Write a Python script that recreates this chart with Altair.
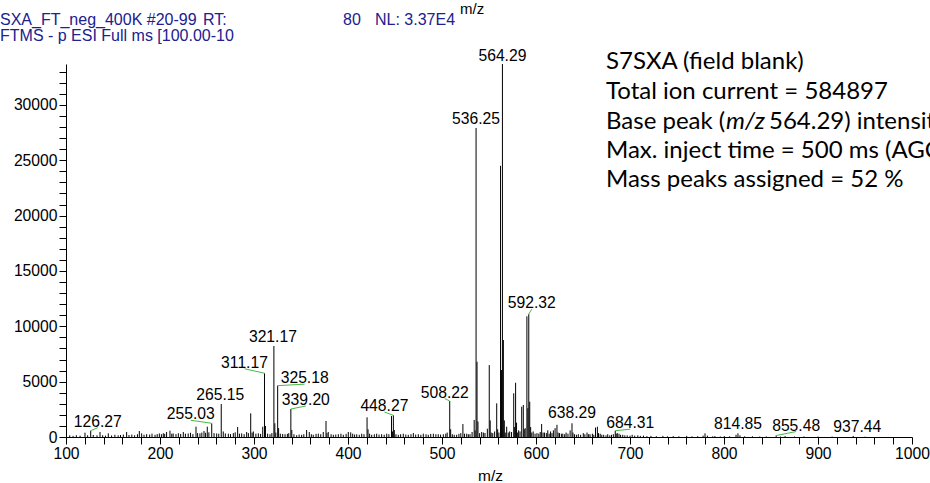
import altair as alt
import pandas as pd

# ---------------- data ----------------
peak_mz = [
    104.0, 107.5, 111.0, 115.0, 120.2, 123.0, 126.27, 129.0, 133.0, 136.2,
    139.0, 142.0, 145.0, 148.5, 152.0, 155.5, 158.0, 161.0, 164.5, 167.0,
    170.0, 173.0, 176.0, 178.0, 180.5, 183.0, 185.8, 189.0, 191.5, 194.7,
    197.0, 199.3, 201.5, 203.5, 205.0, 207.0, 210.6, 212.5, 214.0, 217.0,
    219.5, 222.0, 224.8, 227.0, 230.0, 232.5, 235.0, 238.3, 240.0, 242.5,
    244.5, 246.8, 248.5, 250.3, 252.0, 255.03, 257.5, 260.3, 262.5, 265.15,
    267.3, 269.5, 272.7, 275.0, 278.0, 280.0, 282.6, 284.5, 286.9, 289.5,
    292.2, 294.0, 296.5, 298.0, 299.3, 302.0, 304.6, 307.0, 309.3, 311.17,
    312.17, 314.5, 317.0, 319.0, 321.17, 322.17, 323.2, 325.18, 326.18, 328.0,
    330.5, 333.0, 335.5, 337.0, 339.20, 340.2, 342.5, 345.4, 348.0, 350.7,
    353.0, 356.0, 358.8, 361.0, 363.0, 366.0, 368.4, 371.0, 373.7, 376.6,
    377.6, 379.0, 382.0, 384.4, 387.0, 389.7, 392.5, 395.0, 398.0, 400.3,
    402.9, 405.0, 407.0, 409.3, 412.0, 414.6, 417.0, 420.27, 421.3, 423.0,
    425.2, 428.0, 430.5, 433.0, 435.8, 438.5, 441.2, 443.5, 446.27, 447.27,
    448.27, 449.27, 451.0, 453.5, 456.0, 458.8, 461.5, 464.1, 467.0, 469.5,
    472.0, 474.8, 477.5, 480.1, 483.0, 485.4, 488.0, 490.8, 493.5, 496.0,
    498.5, 501.4, 504.0, 505.5, 508.22, 509.22, 511.0, 513.0, 515.6, 518.0,
    520.0, 522.24, 524.0, 526.3, 528.0, 529.8, 532.0, 534.23, 535.2, 536.25,
    537.26, 538.26, 540.0, 542.2, 544.0, 545.7, 548.25, 550.27, 551.27, 552.3,
    554.0, 556.0, 558.2, 559.2, 560.5, 562.27, 563.28, 564.29, 565.30, 566.3,
    567.3, 568.8, 570.5, 572.0, 574.0, 576.3, 577.3, 578.30, 579.3, 580.5,
    581.5, 583.0, 584.8, 586.5, 587.5, 588.5, 590.31, 591.31, 592.32, 593.32,
    594.3, 595.5, 597.0, 599.0, 601.0, 603.0, 604.5, 606.0, 607.5, 609.0,
    611.0, 612.5, 614.0, 615.5, 617.0, 618.5, 620.3, 622.3, 623.5, 625.0,
    627.0, 628.5, 630.5, 632.0, 634.0, 636.3, 638.29, 639.3, 641.0, 643.0,
    645.0, 647.5, 650.3, 652.0, 654.3, 656.0, 657.5, 660.0, 661.5, 663.3,
    665.3, 666.5, 668.3, 670.0, 672.0, 674.5, 676.3, 678.5, 680.3, 682.3,
    684.31, 685.3, 686.5, 688.3, 690.0, 692.3, 694.5, 697.0, 700.0, 702.3,
    705.0, 708.3, 711.0, 714.3, 718.0, 722.3, 728.0, 735.0, 740.0, 746.0,
    752.0, 760.3, 766.0, 772.0, 777.8, 779.8, 782.3, 788.0, 790.3, 796.0,
    800.3, 806.0, 812.8, 814.85, 817.0, 822.0, 830.3, 838.0, 845.0, 855.48,
    860.0, 865.0, 875.0, 885.0, 900.0, 915.0, 937.44, 950.0,
]
peak_int = [
    150, 100, 160, 120, 390, 150, 570, 180, 150, 450,
    160, 120, 330, 140, 200, 150, 180, 220, 450, 180,
    220, 160, 250, 540, 330, 200, 260, 220, 300, 200,
    260, 320, 250, 340, 280, 450, 570, 300, 320, 260,
    340, 280, 450, 300, 320, 380, 260, 930, 350, 330,
    400, 540, 380, 930, 420, 1240, 350, 320, 300, 2980,
    500, 320, 300, 260, 350, 420, 900, 300, 330, 250,
    450, 350, 2140, 400, 500, 300, 330, 280, 930, 5760,
    1000, 300, 250, 350, 8220, 1240, 400, 4640, 800, 300,
    270, 250, 280, 350, 2530, 630, 250, 160, 220, 200,
    250, 630, 450, 250, 200, 280, 300, 250, 450, 1450,
    350, 450, 250, 200, 220, 250, 300, 200, 280, 450,
    420, 300, 220, 250, 200, 300, 250, 1780, 700, 300,
    200, 250, 300, 220, 250, 200, 300, 250, 1900, 500,
    1960, 630, 250, 200, 250, 300, 220, 200, 250, 360,
    220, 250, 200, 300, 250, 200, 280, 300, 250, 250,
    220, 250, 300, 400, 3250, 700, 250, 200, 200, 280,
    350, 1170, 300, 300, 250, 250, 450, 1540, 600, 27920,
    6800, 1400, 350, 450, 400, 360, 750, 6500, 1500, 400,
    350, 500, 3040, 700, 400, 24500, 6050, 33700, 8760, 1500,
    400, 930, 400, 500, 450, 3950, 900, 4900, 1300, 400,
    600, 500, 2740, 2890, 700, 800, 10900, 2600, 11100, 3190,
    900, 400, 500, 300, 350, 300, 450, 1170, 400, 400,
    350, 600, 300, 500, 350, 600, 800, 1100, 400, 350,
    300, 300, 250, 400, 300, 600, 1240, 400, 250, 200,
    250, 200, 350, 250, 400, 250, 250, 300, 200, 850,
    930, 350, 300, 200, 200, 150, 250, 150, 200, 250,
    570, 300, 350, 300, 200, 200, 150, 150, 120, 200,
    120, 150, 100, 120, 80, 100, 70, 100, 60, 80,
    60, 100, 60, 70, 120, 330, 120, 60, 80, 50,
    80, 60, 200, 330, 150, 60, 60, 40, 50, 130,
    40, 80, 40, 50, 40, 40, 100, 30,
]

label_text = ["126.27", "255.03", "265.15", "311.17", "321.17", "325.18",
              "339.20", "448.27", "508.22", "536.25", "564.29", "592.32",
              "638.29", "684.31", "814.85", "855.48", "937.44"]

# layout of the peak labels: pixel offsets from the peak apex, leader line flag
label_dx = [7, -21, -1, -20, -1, 27, 15, -9, -5, 0, 0, 3, 0, 15, 0, 20, 4]
label_dy = [-9, -9, -9, -10.5, -9.5, -7.5, -9, -9.3, -8.5, -9, -8, -11, -10, -7.5, -9.3, -10, -9]
label_leader = [1, 1, 0, 1, 0, 1, 1, 1, 1, 0, 0, 1, 0, 1, 0, 1, 0]

x_tick_values = list(range(100, 1001, 20))
y_tick_values = list(range(0, 34000, 1000))

# ---------------- layout ----------------
W, H = 846, 373
PL, PT = 66, 64
XMIN, XMAX, YMAX = 100, 1000, 33700
ARIAL = "Liberation Sans, Arial, sans-serif"
CALIBRI = "Lato, Open Sans, sans-serif"
NAVY = "#20208f"
GREEN = "#44bb44"
FS = 15.7

peaks = pd.DataFrame({"mz": peak_mz, "intensity": peak_int})
lookup = dict(zip(peak_mz, peak_int))
lab = pd.DataFrame({"text": label_text, "dx": label_dx, "dy": label_dy,
                    "leader": label_leader})
lab["mz"] = lab["text"].astype(float)
lab["intensity"] = lab["mz"].map(lookup)
xu = (XMAX - XMIN) / W
yu = YMAX / H
lab["lx"] = lab["mz"] + lab["dx"] * xu
lab["ly"] = lab["intensity"] - lab["dy"] * yu
lab["ey"] = lab["intensity"] - (lab["dy"] + 6) * yu
leaders = lab[lab["leader"] == 1]

xs = alt.Scale(domain=[XMIN, XMAX], nice=False, zero=False)
ys = alt.Scale(domain=[0, YMAX], nice=False)

x_axis = alt.Axis(
    values=x_tick_values,
    labelExpr="datum.value % 100 == 0 ? datum.label : ''",
    format="d", labelFlush=False, labelOverlap=False,
)
y_axis = alt.Axis(
    values=y_tick_values,
    labelExpr="datum.value % 5000 == 0 ? datum.label : ''",
    format="d", labelOverlap=False,
)


def X(field):
    return alt.X(field, type="quantitative", scale=xs, axis=x_axis, title="")


def Y(field):
    return alt.Y(field, type="quantitative", scale=ys, axis=y_axis, title="")


spectrum = alt.Chart(peaks).mark_rule(color="black", strokeWidth=1).encode(
    x=X("mz"),
    y=Y("intensity"),
    y2=alt.datum(0),
)

leader_lines = alt.Chart(leaders).mark_rule(color=GREEN, strokeWidth=1).encode(
    x=X("mz"),
    y=Y("intensity"),
    x2="lx:Q",
    y2="ey:Q",
)

peak_labels = alt.Chart(lab).mark_text(
    font=ARIAL, fontSize=FS, color="black", align="center", baseline="middle"
).encode(
    x=X("lx"),
    y=Y("ly"),
    text="text:N",
)


def note(text, x, y, color="black", font=ARIAL, size=16, italic=False, limit=0):
    kw = dict(font=font, fontSize=size, color=color, align="left", baseline="middle")
    if italic:
        kw["fontStyle"] = "italic"
    if limit:
        kw["limit"] = limit
        kw["ellipsis"] = "\u200b"
    return alt.Chart(pd.DataFrame({"t": [text]})).mark_text(**kw).encode(
        text="t:N", x=alt.value(x - PL), y=alt.value(y - PT)
    )


CS = 24
notes = [
    note("SXA_FT_neg_400K #20-99", 0, 20, NAVY),
    note("RT:", 203, 20, NAVY),
    note("80", 343, 20, NAVY),
    note("NL: 3.37E4", 375, 20, NAVY),
    note("FTMS - p ESI Full ms [100.00-1000.00]", 0, 36, NAVY, limit=236),
    note("m/z", 460, 9, size=15),
    note("m/z", 478, 476, size=15.5),
    note("S7SXA (field blank)", 606, 62, font=CALIBRI, size=CS),
    note("Total ion current = 584897", 606, 92, font=CALIBRI, size=CS),
    note("Base peak (", 606, 122, font=CALIBRI, size=CS),
    note("m/z", 726, 122, font=CALIBRI, size=CS, italic=True),
    note("564.29) intensity = 33700", 769, 122, font=CALIBRI, size=CS),
    note("Max. inject time = 500 ms (AGC target)", 606, 151, font=CALIBRI, size=CS),
    note("Mass peaks assigned = 52 %", 606, 180, font=CALIBRI, size=CS),
]

chart = alt.layer(spectrum, leader_lines, peak_labels, *notes).properties(
    width=W, height=H,
    padding={"left": PL, "top": PT, "right": 930 - PL - W, "bottom": 483 - PT - H},
    autosize=alt.AutoSizeParams(type="none"),
    background="white",
).configure_view(strokeWidth=0).configure_axis(
    tickSize=7, labelPadding=2, labelFont=ARIAL, labelFontSize=FS,
    labelColor="black", tickColor="black", domainColor="black", grid=False,
)

chart.save("out.html", embed_options={"renderer": "svg", "actions": False})
